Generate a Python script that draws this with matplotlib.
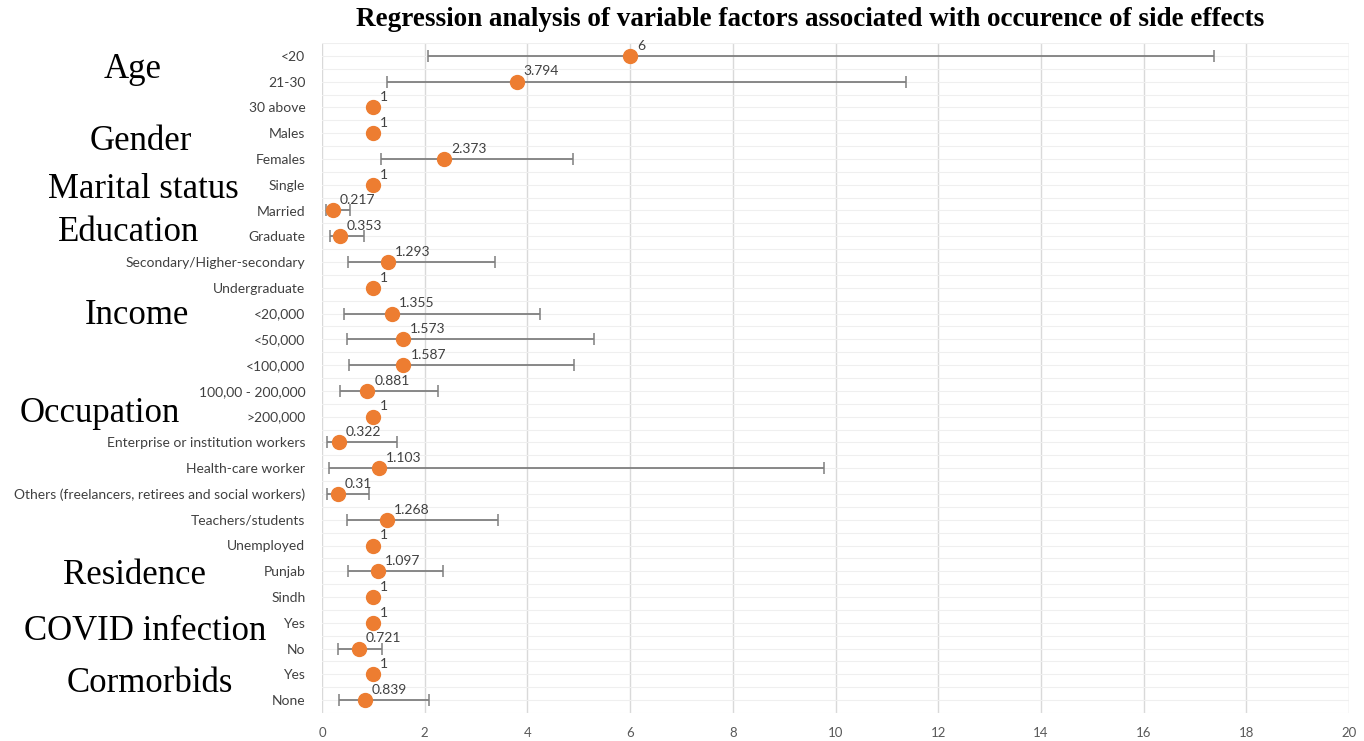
import matplotlib.pyplot as plt

# odds ratios with 95% CI
categories = [
    "<20", "21-30", "30 above",
    "Males", "Females",
    "Single", "Married",
    "Graduate", "Secondary/Higher-secondary", "Undergraduate",
    "<20,000", "<50,000", "<100,000", "100,00 - 200,000", ">200,000",
    "Enterprise or institution workers", "Health-care worker",
    "Others (freelancers, retirees and social workers)", "Teachers/students", "Unemployed",
    "Punjab", "Sindh",
    "Yes", "No",
    "Yes", "None",
]
odds = [6, 3.794, 1,
        1, 2.373,
        1, 0.217,
        0.353, 1.293, 1,
        1.355, 1.573, 1.587, 0.881, 1,
        0.322, 1.103, 0.31, 1.268, 1,
        1.097, 1,
        1, 0.721,
        1, 0.839]
ci_low = [2.06, 1.27, 1,
          1, 1.15,
          1, 0.08,
          0.16, 0.51, 1,
          0.43, 0.49, 0.53, 0.35, 1,
          0.10, 0.14, 0.10, 0.49, 1,
          0.51, 1,
          1, 0.31,
          1, 0.33]
ci_high = [17.37, 11.37, 1,
           1, 4.89,
           1, 0.55,
           0.82, 3.37, 1,
           4.25, 5.30, 4.91, 2.26, 1,
           1.46, 9.78, 0.92, 3.43, 1,
           2.36, 1,
           1, 1.17,
           1, 2.08]
labels = ["6", "3.794", "1", "1", "2.373", "1", "0.217", "0.353", "1.293", "1",
          "1.355", "1.573", "1.587", "0.881", "1", "0.322", "1.103", "0.31", "1.268", "1",
          "1.097", "1", "1", "0.721", "1", "0.839"]

groups = ["Age", "Gender", "Marital status", "Education", "Income",
          "Occupation", "Residence", "COVID infection", "Cormorbids"]
# approximate figure-pixel centres of the group headings
group_xy = [(133, 70), (141, 141), (143, 189), (129, 232), (137, 315),
            (100, 413), (134, 576), (145, 632), (150, 683)]

W, H = 1364, 741
fig = plt.figure(figsize=(W / 100, H / 100), dpi=100)
ax = fig.add_axes([322 / W, 1 - 713 / H, (1349 - 322) / W, (713 - 43) / H])

y = list(range(len(categories)))
err_lo = [o - l for o, l in zip(odds, ci_low)]
err_hi = [h - o for o, h in zip(odds, ci_high)]

ax.errorbar(odds, y, xerr=[err_lo, err_hi], fmt='none', ecolor='#7f7f7f',
            elinewidth=1.3, capsize=4, capthick=1.1, zorder=3)
ax.plot(odds, y, 'o', color='#ED7D31', markersize=10, zorder=4)

for xv, yv, t in zip(odds, y, labels):
    ax.annotate(t, (xv, yv), xytext=(5, 3), textcoords='offset points',
                ha='left', va='bottom', fontsize=10, color='#404040',
                family='Lato', zorder=5)

ax.set_xlim(0, 20)
ax.set_xticks(range(0, 21, 2))
ax.set_ylim(len(categories) - 0.5, -0.5)
ax.set_yticks(y)
ax.set_yticklabels(categories)
ax.set_yticks([i - 0.5 for i in range(len(categories) + 1)], minor=True)

ax.grid(axis='x', color='#d9d9d9', linewidth=1)
ax.grid(axis='y', which='both', color='#efefef', linewidth=0.8)
ax.set_axisbelow(True)
for s in ax.spines.values():
    s.set_visible(False)
ax.tick_params(axis='both', which='both', length=0)
ax.tick_params(axis='y', pad=12, labelsize=10, labelcolor='#404040')
ax.tick_params(axis='x', pad=10, labelsize=9.5, labelcolor='#595959')
for lab in ax.get_xticklabels() + ax.get_yticklabels():
    lab.set_family('Lato')

fig.text(810 / W, 1 - 19 / H,
         "Regression analysis of variable factors associated with occurence of side effects",
         ha='center', va='center', fontsize=19.5, fontweight='bold',
         family='Liberation Serif')

for g, (gx, gy) in zip(groups, group_xy):
    fig.text(gx / W, 1 - gy / H, g, ha='center', va='center',
             fontsize=25, family='Liberation Serif', color='black')

fig.savefig("out.png", dpi=100, facecolor='white')
